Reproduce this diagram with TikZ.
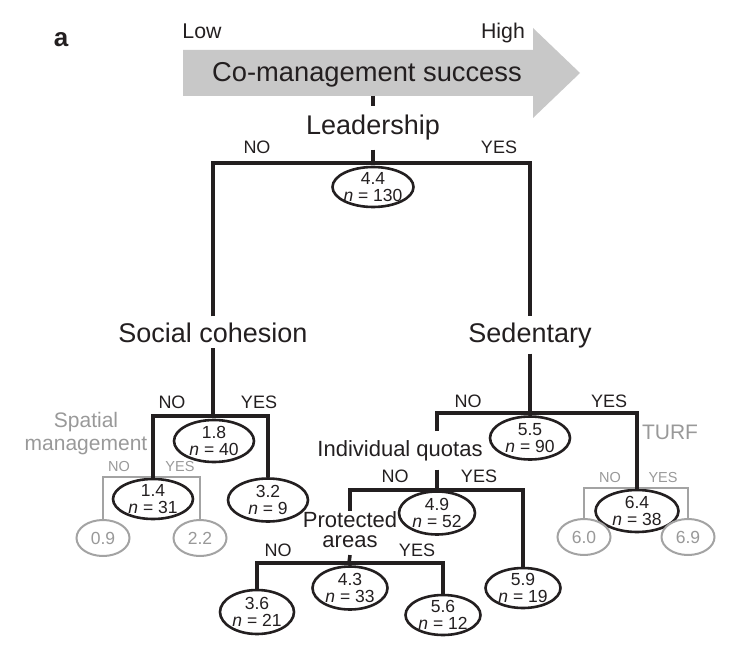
\documentclass[tikz,border=0pt]{standalone}
\usepackage{fontspec}
\setmainfont{Liberation Sans}
\usetikzlibrary{shapes.geometric}
\definecolor{ink}{HTML}{231F20}
\definecolor{greyline}{HTML}{A3A3A3}
\definecolor{greytext}{HTML}{999999}
\definecolor{arrowfill}{HTML}{C8C8C8}

\begin{document}
\begin{tikzpicture}[x=1pt,y=-1pt,
  tree/.style={draw=ink,line width=3.6pt},
  gtree/.style={draw=greyline,line width=2.2pt},
  oval/.style={ellipse,draw=ink,fill=white,line width=2.6pt,inner sep=-8pt,minimum width=80pt,minimum height=42pt,
    align=center,text=ink,font=\fontsize{17.5}{17}\selectfont},
  goval/.style={oval,draw=greyline,line width=2pt,text=greytext,minimum width=53pt,minimum height=36pt},
  big/.style={inner sep=0pt,outer sep=6pt,text=ink,anchor=base,font=\fontsize{27}{28}\selectfont},
  mid/.style={big,font=\fontsize{22}{20}\selectfont,align=center},
  yn/.style={inner sep=0pt,text=ink,font=\fontsize{18}{18}\selectfont},
  gyn/.style={yn,text=greytext,font=\fontsize{14.5}{14}\selectfont},
  glbl/.style={inner sep=0pt,text=greytext,align=center,font=\fontsize{21}{23}\selectfont}]
\useasboundingbox (0,0) rectangle (746,660);

% ---- heading arrow
\node[font=\fontsize{26}{26}\bfseries,text=ink] (panel) at (61,40) {a};
\fill[arrowfill] (183,50) -- (533,50) -- (533,28) -- (580,73) -- (533,118) -- (533,96) -- (183,96) -- cycle;
\node[big,font=\fontsize{27.3}{28}\selectfont] (succ) at (367,82) {Co-management success};
\node[big,font=\fontsize{21.3}{22}\selectfont] (low) at (202,39) {Low};
\node[big,font=\fontsize{21.3}{22}\selectfont] (high) at (503,39) {High};

% ---- split labels
\node[big,outer sep=9pt] (lead) at (373,135) {Leadership};
\node[big] (soc) at (213,342) {Social cohesion};
\node[big] (sed) at (530,342) {Sedentary};
\node[mid,outer sep=9pt] (quot) at (400,456) {Individual quotas};
\node[mid,anchor=center,outer sep=1pt] (prot) at (350,530) {Protected\\areas};
\node[glbl] (spat) at (86,434) {Spatial\\management};
\node[glbl,anchor=base] (turf) at (670,439) {TURF};

% ---- branch points
\coordinate (abot) at (373,96);
\coordinate (jlead) at (373,163);
\coordinate (jsoc) at (213,416);
\coordinate (jspat) at (153,477);
\coordinate (jsed) at (530,413);
\coordinate (jturf) at (637,488);
\coordinate (jquot) at (437,490);
\coordinate (jprot) at (349,563);

% ---- leaves and inner nodes
\node[oval,minimum width=81pt,minimum height=40pt] (e44) at (373,187) {4.4\\\textit{n} = 130};
\node[oval] (e18) at (214,441) {1.8\\\textit{n} = 40};
\node[oval,minimum height=40pt] (e14) at (153,499) {1.4\\\textit{n} = 31};
\node[oval,minimum height=43pt] (e32) at (268,500) {3.2\\\textit{n} = 9};
\node[oval,minimum height=43pt] (e55) at (530,438) {5.5\\\textit{n} = 90};
\node[oval,minimum width=76pt,minimum height=43pt] (e49) at (437,513) {4.9\\\textit{n} = 52};
\node[oval,minimum width=75pt,minimum height=43pt] (e43) at (350,588) {4.3\\\textit{n} = 33};
\node[oval,minimum width=74pt,minimum height=44pt] (e36) at (257,612) {3.6\\\textit{n} = 21};
\node[oval,minimum width=75pt,minimum height=40pt] (e56) at (443,615) {5.6\\\textit{n} = 12};
\node[oval,minimum width=75pt,minimum height=40pt] (e59) at (523,588) {5.9\\\textit{n} = 19};
\node[oval,minimum width=83pt] (e64) at (637,511) {6.4\\\textit{n} = 38};
\node[goval] (e09) at (103,538) {0.9};
\node[goval] (e22) at (200,538) {2.2};
\node[goval] (e60) at (584,537) {6.0};
\node[goval] (e69) at (688,537) {6.9};

% ---- grey splits
\draw[gtree] (e09.north) |- (jspat) -| (e22.north);
\draw[gtree] (e60.north) |- (jturf) -| (e69.north);

% ---- tree
\draw[tree] (abot) -- (lead.north);
\draw[tree] (lead.south) -- (jlead);
\draw[tree] (soc.north) |- (jlead) -| (sed.north);
\draw[tree] (soc.south) -- (jsoc);
\draw[tree] (e14.north) |- (jsoc) -| (e32.north);
\draw[tree] (sed.south) -- (jsed);
\draw[tree] (quot.north -| e49) |- (jsed) -| (e64.north);
\draw[tree] (quot.south -| e49) -- (jquot);
\draw[tree] (prot.north) |- (jquot) -| (e59.north);
\draw[tree] ([yshift=-6pt]prot.south) -- (jprot);
\draw[tree] (e36.north) |- (jprot) -| (e56.north);

% ---- NO / YES
\node[yn] (no1) at (257,147) {NO};
\node[yn] (yes1) at (499,147) {YES};
\node[yn] (no2) at (172,402) {NO};
\node[yn] (yes2) at (259,402) {YES};
\node[yn] (no3) at (468,401) {NO};
\node[yn] (yes3) at (609,401) {YES};
\node[yn] (no4) at (395,476) {NO};
\node[yn] (yes4) at (479,476) {YES};
\node[yn] (no5) at (278,550) {NO};
\node[yn] (yes5) at (417,550) {YES};
\node[gyn] (no6) at (119,467) {NO};
\node[gyn] (yes6) at (180,467) {YES};
\node[gyn] (no7) at (610,478) {NO};
\node[gyn] (yes7) at (663,478) {YES};
\end{tikzpicture}
\end{document}
